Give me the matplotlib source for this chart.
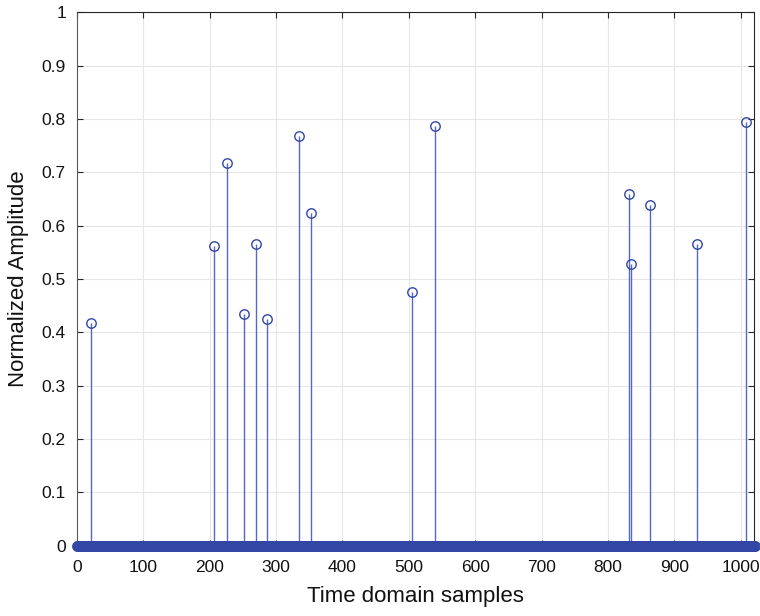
import numpy as np
import matplotlib
matplotlib.use("Agg")
import matplotlib.pyplot as plt

plt.rcParams['font.family'] = ['Liberation Sans', 'DejaVu Sans']

# Sparse time-domain signal: 1024 samples, a few nonzero spikes
n_samples = 1024
spike_positions = [21, 207, 226, 252, 270, 287, 334, 352, 505, 540, 831, 835, 863, 934, 1008]
spike_values = [0.418, 0.562, 0.718, 0.435, 0.566, 0.425, 0.768, 0.623, 0.476, 0.786,
                0.659, 0.528, 0.639, 0.566, 0.794]
x_ticks = [0, 100, 200, 300, 400, 500, 600, 700, 800, 900, 1000]
y_ticks = [0, 0.1, 0.2, 0.3, 0.4, 0.5, 0.6, 0.7, 0.8, 0.9, 1]
y_tick_labels = ['0', '0.1', '0.2', '0.3', '0.4', '0.5', '0.6', '0.7', '0.8', '0.9', '1']

signal = np.zeros(n_samples)
signal[spike_positions] = spike_values
samples = np.arange(n_samples)

fig = plt.figure(figsize=(7.6, 6.16), dpi=100)
ax = fig.add_axes([77 / 760, 1 - 545.7 / 616, (754 - 77) / 760, (545.7 - 12.3) / 616])

markerline, stemlines, baseline = ax.stem(samples, signal)
stemlines.set_color('#5568C8')
stemlines.set_linewidth(1.0)
markerline.set_marker('o')
markerline.set_linestyle('none')
markerline.set_markersize(6.8)
markerline.set_markerfacecolor('none')
markerline.set_markeredgecolor('#3246A6')
markerline.set_markeredgewidth(1.0)
markerline.set_clip_on(False)
markerline.set_zorder(3)
baseline.set_visible(False)

ax.set_xlim(0, 1020)
ax.set_ylim(0, 1)
ax.set_xticks(x_ticks)
ax.set_yticks(y_ticks)
ax.set_yticklabels(y_tick_labels)

ax.grid(True, color='#e6e6e6', linewidth=0.8)
ax.set_axisbelow(True)

for side, sp in ax.spines.items():
    sp.set_color('#262626')
    sp.set_linewidth(0.8)
ax.spines['left'].set_color('#5a5a5a')

ax.tick_params(direction='in', length=4, width=0.8, colors='#262626',
               labelcolor='#111111', labelsize=12.5, top=True, right=True)
ax.tick_params(axis='x', pad=10)
ax.tick_params(axis='y', pad=8)

ax.set_xlabel('Time domain samples', fontsize=16, color='#111111', labelpad=8)
ax.set_ylabel('Normalized Amplitude', fontsize=16, color='#111111', labelpad=9)

fig.savefig('out.png', dpi=100)
